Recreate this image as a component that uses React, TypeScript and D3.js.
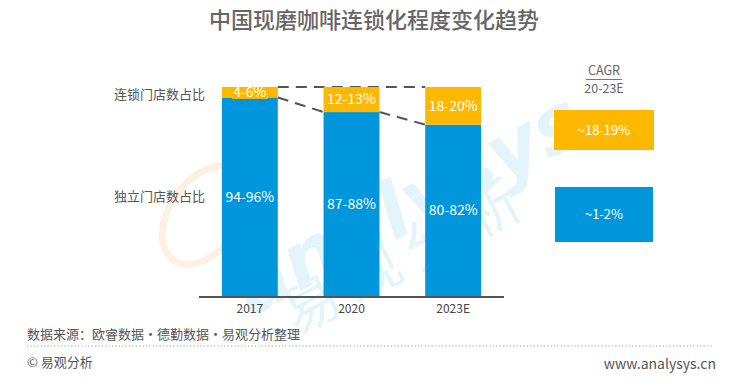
import React from "react";
import * as d3 from "d3";

const categories = ["2017", "2020", "2023E"];
const chainShare = [5, 12, 18];
const independentShare = [95, 88, 82];
const chainLabels = ["4-6%", "12-13%", "18-20%"];
const independentLabels = ["94-96%", "87-88%", "80-82%"];
const seriesNames = ["连锁门店数占比", "独立门店数占比"];
const cagrLabels = ["~18-19%", "~1-2%"];

const ORANGE = "#FFB800";
const BLUE = "#0096DC";
const FONT = "'Noto Sans CJK SC', 'Noto Sans', sans-serif";

export default function App() {
  const W = 730, H = 381;
  const x = d3.scaleBand<string>().domain(categories).range([199, 504]).paddingInner(0.45).paddingOuter(0.225);
  const y = d3.scaleLinear().domain([0, 100]).range([296, 87]);
  const bw = x.bandwidth();

  const junction = categories.map((c, i) => ({ l: x(c)!, r: x(c)! + bw, y: y(100 - chainShare[i]) }));
  const diag = d3.line<[number, number]>();
  const diagPts: [number, number][][] = [];
  for (let i = 0; i < categories.length - 1; i++) {
    diagPts.push([[junction[i].r, junction[i].y], [junction[i + 1].l, junction[i + 1].y]]);
  }

  return (
    <svg width={W} height={H} style={{ position: "absolute", left: 0, top: 0, background: "#fff" }} fontFamily={FONT}>
      {/* watermark */}
      <g opacity={0.14}>
        <ellipse cx={205} cy={215} rx={35} ry={55} fill="none" stroke="#F7A541" strokeWidth={7} transform="rotate(35 205 215)" />
        <text x={200} y={250} fontSize={78} fill="#4AB3EA" fontStyle="italic" fontWeight="bold" transform="rotate(-28 360 180)" fontFamily="'DejaVu Sans', sans-serif">analysys</text>
        <text x={240} y={290} fontSize={56} fill="#4AB3EA" transform="rotate(-28 360 200)">易 观 分 析</text>
      </g>

      {/* title */}
      <text x={374} y={20} textAnchor="middle" fontSize={22} fill="#666" fontWeight={500} dy="0.35em">中国现磨咖啡连锁化程度变化趋势</text>

      {/* dashed lines */}
      <line x1={junction[0].r} x2={junction[2].l} y1={y(100)} y2={y(100)} stroke="#555" strokeWidth={2} strokeDasharray="11 7" />
      {diagPts.map((p, i) => (
        <path key={i} d={diag(p)!} stroke="#555" strokeWidth={2} strokeDasharray="11 7" fill="none" />
      ))}

      {/* bars */}
      {categories.map((c, i) => (
        <g key={c}>
          <rect x={x(c)} y={y(independentShare[i])} width={bw} height={y(0) - y(independentShare[i])} fill={BLUE} />
          <rect x={x(c)} y={y(100)} width={bw} height={y(0) - y(chainShare[i]) } fill={ORANGE} />
        </g>
      ))}
      {/* small label box behind first chain label */}
      <rect x={x(categories[0])! + 10} y={y(100)} width={bw - 20} height={y(independentShare[0]) - y(100) + 1.5} fill={ORANGE} />

      {/* labels */}
      {categories.map((c, i) => {
        const cx = x(c)! + bw / 2;
        const chainMid = (y(100) + y(independentShare[i])) / 2;
        const indMid = (y(independentShare[i]) + y(0)) / 2;
        return (
          <g key={c} fill="#fff" fontSize={14} textAnchor="middle">
            <text x={cx} y={chainMid} dy="0.35em">{chainLabels[i]}</text>
            <text x={cx} y={indMid} dy="0.35em">{independentLabels[i]}</text>
          </g>
        );
      })}

      {/* series names */}
      <text x={205} y={94} textAnchor="end" fontSize={13} fill="#555" dy="0.35em">{seriesNames[0]}</text>
      <text x={205} y={196} textAnchor="end" fontSize={13} fill="#555" dy="0.35em">{seriesNames[1]}</text>

      {/* axis */}
      <line x1={199} x2={504} y1={297} y2={297} stroke="#555" strokeWidth={2} />
      {categories.map((c) => (
        <text key={c} x={x(c)! + bw / 2} y={309} textAnchor="middle" fontSize={12} fill="#444" dy="0.35em">{c}</text>
      ))}

      {/* CAGR */}
      <text x={604} y={71} textAnchor="middle" fontSize={12.5} fill="#666" dy="0.35em">CAGR</text>
      <line x1={586} x2={622} y1={79.5} y2={79.5} stroke="#777" strokeWidth={1} />
      <text x={604} y={88.5} textAnchor="middle" fontSize={12.5} fill="#666" dy="0.35em">20-23E</text>
      <rect x={554} y={110} width={100} height={40} fill={ORANGE} />
      <text x={604} y={130} textAnchor="middle" fontSize={13} fill="#fff" dy="0.35em">{cagrLabels[0]}</text>
      <rect x={555} y={187} width={98} height={55} fill={BLUE} />
      <text x={604} y={214} textAnchor="middle" fontSize={13} fill="#fff" dy="0.35em">{cagrLabels[1]}</text>

      {/* footer */}
      <text x={27} y={334} fontSize={13} fill="#555" dy="0.35em">数据来源：欧睿数据·德勤数据·易观分析整理</text>
      <line x1={27} x2={712} y1={346} y2={346} stroke="#999" strokeWidth={1.2} strokeDasharray="1.2 2.2" />
      <text x={27} y={362} fontSize={13} fill="#555" dy="0.35em">© 易观分析</text>
      <text x={716} y={364} textAnchor="end" fontSize={14} fill="#555" dy="0.35em">www.analysys.cn</text>
    </svg>
  );
}
